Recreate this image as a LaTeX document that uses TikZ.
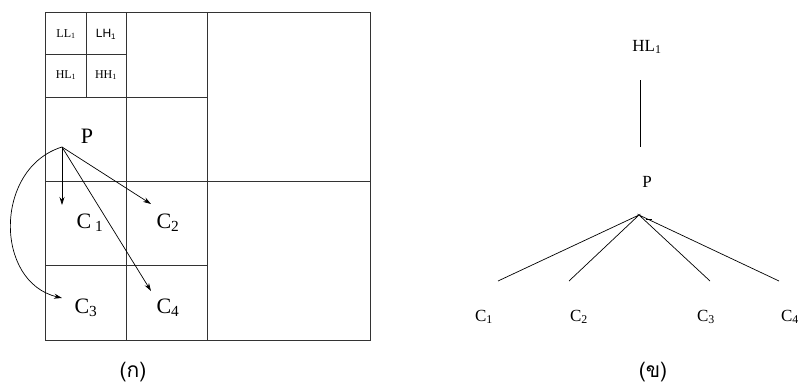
\documentclass[tikz,border=0pt]{standalone}
\usepackage{fontspec}
\setmainfont{Liberation Serif}
\newfontfamily\sansf{Liberation Sans}
\newfontfamily\thaifont[Script=Thai]{Loma}
\usetikzlibrary{arrows.meta}
\begin{document}
\begin{tikzpicture}[x=1pt,y=-1pt,
  gridln/.style={draw=black!80, line width=0.9pt},
  thinln/.style={draw=black, line width=0.7pt},
  arr/.style={draw=black, line width=0.7pt, -{Stealth[length=8pt,width=5pt]}},
  small/.style={font=\fontsize{12}{13}\selectfont, inner sep=0pt},
  bigl/.style={font=\fontsize{22}{24}\selectfont, inner sep=0pt},
  midl/.style={font=\fontsize{17}{19}\selectfont, inner sep=0pt},
  captext/.style={font=\fontsize{21}{24}\selectfont\thaifont, inner sep=0pt}]
\useasboundingbox (0,0) rectangle (798,389);
% grid (left panel)
\draw[gridln] (45,12) rectangle (370,340);
\draw[gridln] (207,12) -- (207,340);
\draw[gridln] (45,181) -- (370,181);
\draw[gridln] (126,12) -- (126,340);
\draw[gridln] (45,97) -- (207,97);
\draw[gridln] (45,265) -- (207,265);
\draw[gridln] (86,12) -- (86,97);
\draw[gridln] (45,54) -- (126,54);
% small labels
\node[small] (ll) at (66,34) {LL\textsubscript{1}};
\node[small] (lh) at (106,34) {\sansf LH\textsubscript{1}};
\node[small] (hl) at (66,75) {HL\textsubscript{1}};
\node[small] (hh) at (106,75) {HH\textsubscript{1}};
% P and arrows
\node[bigl] (p) at (87,136) {P};
\coordinate (o) at (62,147);
\coordinate (t1) at (62,205);
\coordinate (t2) at (151,204);
\coordinate (t3) at (62,298);
\coordinate (t4) at (151,291);
\node[bigl] (c1) at (90,223) {C\,\textsubscript{1}};
\node[bigl] (c2) at (168,223) {C\textsubscript{2}};
\node[bigl] (c3) at (86,308) {C\textsubscript{3}};
\node[bigl] (c4) at (168,308) {C\textsubscript{4}};
\draw[arr] (o) -- (t1);
\draw[arr] (o) -- (t2);
\draw[arr] (o) -- (t4);
\draw[arr] (o) .. controls (-6,168) and (-6,282) .. (t3);
\node[captext] (ka) at (133,372) {(ก)};
% right panel tree
\node[midl] (hlr) at (647,47) {HL\textsubscript{1}};
\coordinate (v1) at (640,80);
\coordinate (v2) at (640,147);
\draw[thinln] (v1) -- (v2);
\node[midl] (pr) at (647,182) {P};
\coordinate (a) at (639,215);
\coordinate (e1) at (498,281);
\coordinate (e2) at (569,281);
\coordinate (e3) at (710,281);
\coordinate (e4) at (779,281);
\coordinate (k1) at (646,219);
\coordinate (k2) at (652,219);
\draw[thinln] (e1) -- (a) -- (e2);
\draw[thinln] (e3) -- (a) -- (e4);
\draw[thinln] (k1) -- (k2);
\node[midl] (rc1) at (484,317) {C\textsubscript{1}};
\node[midl] (rc2) at (579,317) {C\textsubscript{2}};
\node[midl] (rc3) at (706,317) {C\textsubscript{3}};
\node[midl] (rc4) at (790,317) {C\textsubscript{4}};
\node[captext] (kh) at (653,372) {(ข)};
\end{tikzpicture}
\end{document}
